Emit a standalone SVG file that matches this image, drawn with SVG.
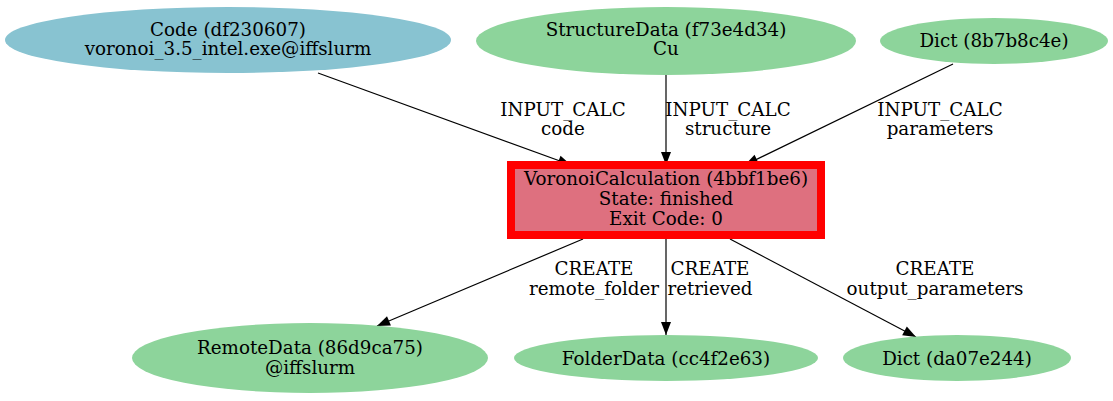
<svg xmlns="http://www.w3.org/2000/svg" width="1113" height="401" viewBox="0 0 1113 401">
<defs>
<style>
text{font-family:"DejaVu Serif","Liberation Serif",serif;font-size:18.3px;fill:#000;text-anchor:middle}
.e{stroke:#000;stroke-width:1.2;fill:none;marker-end:url(#a)}
.g{fill:#8dd49b}
.b{fill:#88c3d1}
</style>
<marker id="a" markerWidth="14" markerHeight="11" refX="13" refY="5.5" orient="auto" markerUnits="userSpaceOnUse" overflow="visible">
<path d="M0,0.5 L13,5.5 L0,10.5 Z" fill="#000"/>
</marker>
</defs>
<rect width="1113" height="401" fill="#fff"/>
<g id="connectors">
<path class="e" d="M318,73 L571,165"/>
<path class="e" d="M666,75 L666,165"/>
<path class="e" d="M953,64 L745,165"/>
<path class="e" d="M583,239 L377,326"/>
<path class="e" d="M666,239 L666,335"/>
<path class="e" d="M730,239 L916,337"/>
<text x="563" y="115.5">INPUT_CALC</text><text x="563" y="135">code</text>
<text x="728" y="115.5">INPUT_CALC</text><text x="728" y="135">structure</text>
<text x="940" y="115.5">INPUT_CALC</text><text x="940" y="135">parameters</text>
<text x="594" y="275">CREATE</text><text x="594" y="294.5">remote_folder</text>
<text x="710" y="275">CREATE</text><text x="710" y="294.5">retrieved</text>
<text x="935" y="275">CREATE</text><text x="935" y="294.5">output_parameters</text>
</g>
<g id="code">
<ellipse class="b" cx="228" cy="40" rx="223" ry="33"/>
<text x="228" y="35.5">Code (df230607)</text><text x="228" y="55">voronoi_3.5_intel.exe@iffslurm</text>
</g>
<g id="structure">
<ellipse class="g" cx="666" cy="41" rx="190" ry="34"/>
<text x="666" y="35.5">StructureData (f73e4d34)</text><text x="666" y="55">Cu</text>
</g>
<g id="dict_in">
<ellipse class="g" cx="994" cy="41" rx="114" ry="23"/>
<text x="994" y="47">Dict (8b7b8c4e)</text>
</g>
<g id="calc">
<rect x="511" y="165" width="310" height="70" fill="#de707f" stroke="#f00" stroke-width="8"/>
<text x="666" y="185">VoronoiCalculation (4bbf1be6)</text>
<text x="666" y="205">State: finished</text>
<text x="666" y="224.5">Exit Code: 0</text>
</g>
<g id="remote">
<ellipse class="g" cx="310" cy="358" rx="178" ry="35"/>
<text x="310" y="354">RemoteData (86d9ca75)</text><text x="310" y="374">@iffslurm</text>
</g>
<g id="folder">
<ellipse class="g" cx="666" cy="358" rx="152" ry="23"/>
<text x="666" y="364.5">FolderData (cc4f2e63)</text>
</g>
<g id="dict_out">
<ellipse class="g" cx="957" cy="358" rx="114" ry="23"/>
<text x="957" y="364.5">Dict (da07e244)</text>
</g>
</svg>
